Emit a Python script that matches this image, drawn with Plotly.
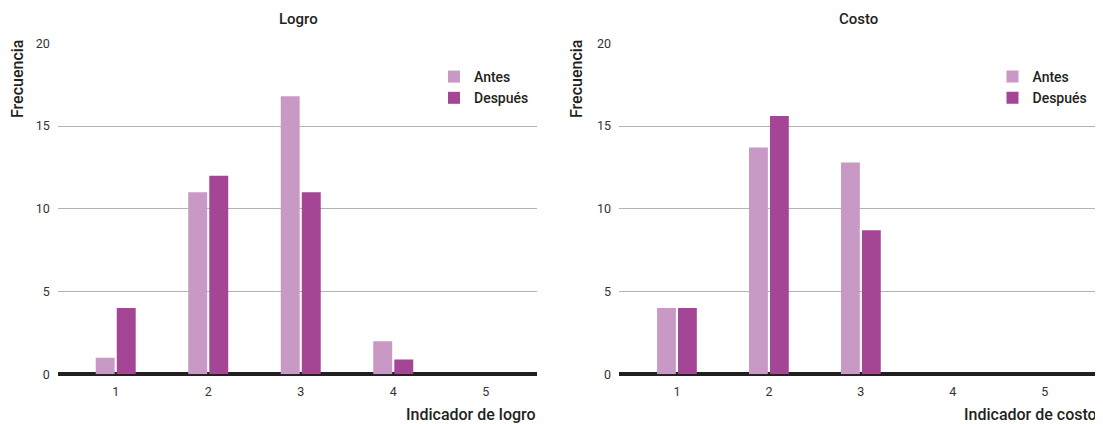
import plotly.graph_objects as go

categories = [1, 2, 3, 4, 5]
logro_antes = [1, 11, 16.8, 2, 0]
logro_despues = [4, 12, 11, 0.9, 0]
costo_antes = [4, 13.7, 12.8, 0, 0]
costo_despues = [4, 15.6, 8.7, 0, 0]
y_ticks = [0, 5, 10, 15, 20]

c_antes = "#c899c5"
c_despues = "#a54596"
FONT = "Roboto"
txt = "#231f20"

# page body has an 8px margin; map reference pixels into figure coordinates
OFF = 8
W, H = 1103 - OFF, 424 - OFF


def px(x):
    return (x - OFF) / W


def py(y):
    return 1 - (y - OFF) / H


fig = go.Figure()
for xs, ys, lg, a, d in [("x", "y", "legend", logro_antes, logro_despues),
                         ("x2", "y2", "legend2", costo_antes, costo_despues)]:
    fig.add_trace(go.Bar(x=categories, y=a, name="Antes", marker_color=c_antes,
                         marker_line_width=0, xaxis=xs, yaxis=ys, legend=lg))
    fig.add_trace(go.Bar(x=categories, y=d, name="Después", marker_color=c_despues,
                         marker_line_width=0, xaxis=xs, yaxis=ys, legend=lg))

ydom = [py(374.3), py(43.3)]
xdom1 = [px(57.8), px(537.3)]
xdom2 = [px(619), px(1100)]

xcommon = dict(tickvals=categories, showgrid=False, zeroline=False,
               showline=False, ticks="", ticklabelstandoff=8, automargin=False,
               tickfont=dict(family=FONT, size=12.5, color="#333"))
ycommon = dict(range=[0, 20], tickvals=y_ticks, showgrid=True, gridcolor="#b3b3b3",
               gridwidth=1.3, zeroline=True, zerolinecolor=txt, zerolinewidth=3.5,
               showline=False, ticks="", ticklabelstandoff=7, automargin=False,
               tickfont=dict(family=FONT, size=12.5, color="#333"))

lab = dict(family=FONT, color=txt, weight=500)

fig.update_layout(
    width=W, height=H,
    margin=dict(l=0, r=0, t=0, b=0, pad=0, autoexpand=False),
    paper_bgcolor="white", plot_bgcolor="white",
    barmode="group", bargap=0.545, bargroupgap=0.1,
    font=dict(family=FONT, color=txt),
    xaxis=dict(domain=xdom1, anchor="y", range=[0.374, 5.557], **xcommon),
    yaxis=dict(domain=ydom, anchor="x", **ycommon),
    xaxis2=dict(domain=xdom2, anchor="y2", range=[0.37, 5.6], **xcommon),
    yaxis2=dict(domain=ydom, anchor="x2", **ycommon),
    legend=dict(x=px(434), y=py(61), xanchor="left", yanchor="top",
                bgcolor="rgba(0,0,0,0)", font=dict(size=14, **lab),
                itemwidth=30, tracegroupgap=0),
    legend2=dict(x=px(992.5), y=py(61), xanchor="left", yanchor="top",
                 bgcolor="rgba(0,0,0,0)", font=dict(size=14, **lab),
                 itemwidth=30, tracegroupgap=0),
    annotations=[
        dict(text="Logro", x=px(298), y=py(19), xref="paper", yref="paper",
             xanchor="center", yanchor="middle",
             showarrow=False, font=dict(size=15, **lab)),
        dict(text="Costo", x=px(858), y=py(19), xref="paper", yref="paper",
             xanchor="center", yanchor="middle",
             showarrow=False, font=dict(size=15, **lab)),
        dict(text="Frecuencia", x=px(18), y=py(38), xref="paper", yref="paper",
             textangle=-90, yanchor="top", xanchor="center", showarrow=False,
             font=dict(size=16, **lab)),
        dict(text="Frecuencia", x=px(577), y=py(38), xref="paper", yref="paper",
             textangle=-90, yanchor="top", xanchor="center", showarrow=False,
             font=dict(size=16, **lab)),
        dict(text="Indicador de logro", x=px(538), y=py(414), xref="paper", yref="paper",
             xanchor="right", yanchor="middle", showarrow=False,
             font=dict(size=16, **lab)),
        dict(text="Indicador de costo", x=px(1099), y=py(414), xref="paper", yref="paper",
             xanchor="right", yanchor="middle", showarrow=False,
             font=dict(size=16, **lab)),
    ],
)

fig.write_html("out.html")
